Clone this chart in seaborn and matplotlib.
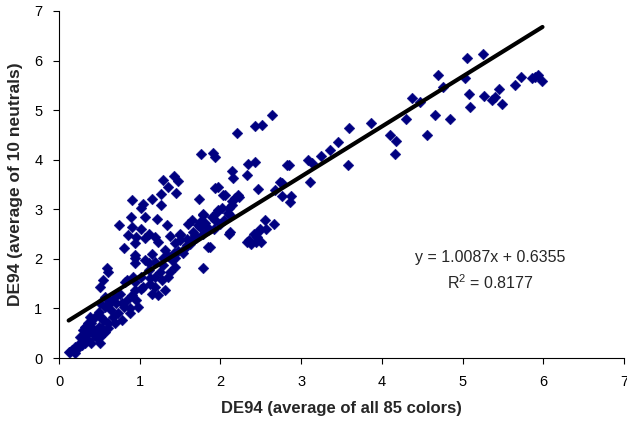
import numpy as np
import pandas as pd
import matplotlib
matplotlib.use("Agg")
import matplotlib.pyplot as plt
import seaborn as sns

# DE94 average of all 85 colors (x) vs DE94 average of 10 neutrals (y)
x_all85 = [
    5.05, 5.25, 4.70, 5.03, 4.76, 5.08, 5.27, 5.36, 5.40, 5.45, 5.49, 5.09, 5.65, 5.72, 5.86, 5.93, 5.99, 5.90,
    4.37, 4.47, 4.66, 4.85, 4.56, 4.30, 4.10, 4.18, 4.16, 3.87, 3.59, 3.46, 3.36, 3.24, 3.09, 3.14, 3.11, 3.58,
    2.82, 2.85, 2.76, 2.76, 2.88, 2.86,
    2.64, 2.43, 2.52, 2.20, 1.76, 1.91, 1.93, 2.34, 2.43, 2.14, 2.15, 2.33, 1.29, 1.43, 1.48, 1.35, 1.26, 1.45,
    0.91, 1.04, 1.15, 1.26, 1.02, 0.89, 1.07, 1.21, 1.34, 0.74, 0.90, 1.02, 0.86, 0.96, 1.07, 1.19, 1.38, 1.50,
    1.23, 0.94, 0.80, 1.31, 0.94, 1.15, 1.42, 1.60, 1.75, 1.83, 1.66, 1.79, 1.93, 1.97, 2.10, 2.14, 2.23, 1.93,
    1.97, 2.03, 1.74, 1.78, 2.47, 2.74, 2.68, 2.12, 1.85, 2.33, 2.41, 2.49, 2.55, 2.66, 2.45, 1.58, 1.66, 1.75, 1.54,
    0.94, 1.07, 1.40, 1.44, 1.29, 1.19, 1.58, 1.50, 1.69, 1.79, 2.10, 2.35, 0.59, 0.61, 0.55, 0.51, 0.82, 0.84,
    0.92, 0.94, 1.02, 1.11, 1.04, 1.15, 1.23, 1.19, 1.31, 1.27, 1.19, 1.35, 0.94, 0.90, 0.84, 0.78, 0.80, 0.88,
    0.63, 0.57, 0.65, 0.73, 0.67, 0.78, 0.49, 0.45, 0.38, 0.55, 0.61, 0.36, 0.32, 0.43, 0.49, 0.47, 0.36, 0.30,
    0.34, 0.26, 0.20, 0.24, 0.14, 0.20, 0.28, 0.40, 0.51, 0.53, 0.57, 0.69, 0.40, 0.88, 0.96, 0.98, 0.76, 0.69,
    0.57, 0.61, 0.94, 1.13, 1.38,
    1.11, 1.50, 2.12, 1.87, 1.64, 1.44, 1.29, 1.44, 1.11, 1.25, 1.13,
    2.22, 2.18,
    1.65, 1.72, 1.81, 1.90, 1.96, 2.02, 2.09, 2.14,
    1.02, 0.51, 0.71, 0.53, 0.41, 0.34, 0.30, 0.26, 0.47, 0.32, 0.36, 0.51, 0.43, 0.55, 0.61, 0.12, 0.16,
    2.50, 2.44, 2.38, 2.47, 2.56, 2.06,
    1.55, 1.62, 1.70, 1.78, 1.85, 1.92, 2.00, 2.05, 1.48, 1.35,
]
y_neutrals = [
    6.06, 6.14, 5.71, 5.64, 5.47, 5.32, 5.28, 5.20, 5.26, 5.42, 5.12, 5.07, 5.50, 5.67, 5.64, 5.71, 5.58, 5.66,
    5.24, 5.17, 4.90, 4.82, 4.49, 4.82, 4.49, 4.38, 4.11, 4.74, 4.63, 4.35, 4.19, 4.08, 3.99, 3.93, 3.56, 3.89,
    3.89, 3.89, 3.53, 3.27, 3.27, 3.14,
    4.91, 4.68, 4.71, 4.54, 4.11, 4.13, 4.05, 3.91, 3.96, 3.78, 3.64, 3.70, 3.59, 3.68, 3.57, 3.44, 3.31, 3.33,
    3.19, 3.10, 3.21, 3.08, 3.02, 2.85, 2.85, 2.80, 2.68, 2.68, 2.65, 2.61, 2.48, 2.45, 2.43, 2.45, 2.46, 2.48,
    2.33, 2.31, 2.22, 2.18, 2.08, 2.10, 2.11, 2.71, 2.75, 2.65, 2.55, 2.89, 2.78, 2.98, 3.02, 3.17, 3.25, 3.42,
    3.44, 3.29, 3.21, 2.90, 3.40, 3.56, 3.39, 2.55, 2.24, 2.34, 2.51, 2.61, 2.78, 2.71, 2.45, 2.41, 2.38, 2.65, 2.11,
    2.01, 1.98, 1.98, 1.84, 1.88, 1.94, 2.28, 2.38, 2.48, 1.81, 2.51, 2.38, 1.81, 1.74, 1.57, 1.44, 1.54, 1.57,
    1.64, 1.54, 1.64, 1.77, 1.44, 1.30, 1.27, 1.44, 1.37, 1.57, 1.64, 1.64, 1.37, 1.27, 1.17, 1.10, 1.03, 1.00,
    1.14, 1.03, 0.97, 0.90, 0.83, 0.77, 0.93, 0.83, 0.83, 0.77, 0.70, 0.70, 0.63, 0.56, 0.63, 0.46, 0.50, 0.43,
    0.36, 0.30, 0.23, 0.20, 0.13, 0.10, 0.26, 0.30, 0.43, 0.60, 0.53, 0.70, 0.70, 0.90, 1.17, 1.03, 1.30, 1.24,
    1.24, 1.07, 1.91, 1.50, 1.74,
    2.51, 2.51, 2.88, 2.24, 2.38, 2.31, 2.01, 2.01, 1.91, 1.74, 1.61,
    3.29, 3.22,
    2.78, 2.68, 2.72, 2.84, 2.94, 3.02, 2.92, 3.08,
    1.40, 1.10, 1.10, 0.80, 0.56, 0.63, 0.56, 0.43, 0.40, 0.30, 0.36, 0.30, 0.46, 0.50, 0.60, 0.13, 0.16,
    2.35, 2.33, 2.29, 2.55, 2.60, 3.29,
    2.20, 2.30, 2.42, 2.50, 2.58, 2.60, 2.70, 2.78, 2.15, 2.05,
]

# Trendline reported on the chart
slope = 1.0087
intercept = 0.6355
r_squared = 0.8177

axis_ticks = [0, 1, 2, 3, 4, 5, 6, 7]
x_label = "DE94 (average of all 85 colors)"
y_label = "DE94 (average of 10 neutrals)"

df = pd.DataFrame({"x": x_all85, "y": y_neutrals})
x_fit = np.array([df["x"].min(), df["x"].max()])
fit_df = pd.DataFrame({"x": x_fit, "y": slope * x_fit + intercept})

sns.set_style("ticks")
plt.rcParams["font.family"] = ["Liberation Sans", "DejaVu Sans"]
plt.rcParams["mathtext.fontset"] = "custom"
plt.rcParams["mathtext.rm"] = "Liberation Sans"
plt.rcParams["mathtext.it"] = "Liberation Sans"

fig = plt.figure(figsize=(6.27, 4.23), dpi=100)
ax = fig.add_axes([59 / 627, 65 / 423, 565 / 627, 347 / 423])

sns.scatterplot(data=df, x="x", y="y", marker="D", s=30, color="#000080",
                edgecolor="#000080", linewidth=0.3, ax=ax, zorder=2)
sns.lineplot(data=fit_df, x="x", y="y", color="black", linewidth=3, ax=ax, zorder=3)

ax.set_xlim(0, 7)
ax.set_ylim(0, 7)
ax.set_xticks(axis_ticks)
ax.set_yticks(axis_ticks)
ax.set_xticklabels([str(t) for t in axis_ticks])
ax.set_yticklabels([str(t) for t in axis_ticks])
ax.tick_params(axis="both", direction="out", length=4, width=0.8, labelsize=10.5,
               colors="black", pad=8)
sns.despine(ax=ax)
for sp in ["left", "bottom"]:
    ax.spines[sp].set_color("black")
    ax.spines[sp].set_linewidth(0.8)

ax.set_xlabel(x_label, fontsize=12, fontweight="bold", labelpad=9)
ax.set_ylabel(y_label, fontsize=12.5, fontweight="bold", labelpad=8)

ax.text(5.34, 2.02, f"y = {slope}x + {intercept}", ha="center", va="center", fontsize=11.5)
ax.text(5.35, 1.51, f"R$^2$ = {r_squared}", ha="center", va="center", fontsize=11.5)

fig.savefig("out.png", dpi=100)
